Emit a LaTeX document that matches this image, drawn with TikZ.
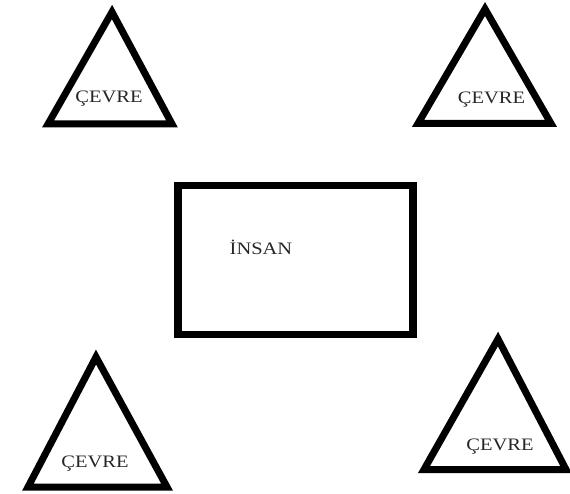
\documentclass[tikz,border=0pt]{standalone}
\usepackage{fontspec}
\setmainfont{Liberation Serif}[FakeStretch=1.17]
\begin{document}
\begin{tikzpicture}[x=1pt,y=-1pt,
  shapeline/.style={line width=7pt,line join=miter,draw=black},
  boxline/.style={line width=7.7pt,draw=black},
  lbl/.style={anchor=base,inner sep=0pt,text=black!85,font=\fontsize{17.5}{20}\selectfont}]
\useasboundingbox (0,0) rectangle (570,494);
% triangle 1 (top-left)
\coordinate (t1a) at (112,12);
\coordinate (t1b) at (48,124);
\coordinate (t1c) at (172,124);
\draw[shapeline] (t1a) -- (t1b) -- (t1c) -- cycle;
\node[lbl] (l1) at (109,103) {ÇEVRE};
% triangle 2 (top-right)
\coordinate (t2a) at (485,9);
\coordinate (t2b) at (418,123.5);
\coordinate (t2c) at (551,123.5);
\draw[shapeline] (t2a) -- (t2b) -- (t2c) -- cycle;
\node[lbl] (l2) at (491.5,103.3) {ÇEVRE};
% rectangle
\node[boxline,minimum width=235pt,minimum height=149pt,inner sep=0pt] (box) at (295.5,260) {};
\node[lbl] (l5) at (261,255) {İNSAN};
% triangle 3 (bottom-left)
\coordinate (t3a) at (96,357);
\coordinate (t3b) at (28,487);
\coordinate (t3c) at (167,487);
\draw[shapeline] (t3a) -- (t3b) -- (t3c) -- cycle;
\node[lbl] (l3) at (95,467.7) {ÇEVRE};
% triangle 4 (bottom-right)
\coordinate (t4a) at (498,339);
\coordinate (t4b) at (424,469.5);
\coordinate (t4c) at (566,469.5);
\draw[shapeline] (t4a) -- (t4b) -- (t4c) -- cycle;
\node[lbl] (l4) at (500,450) {ÇEVRE};
\end{tikzpicture}
\end{document}
